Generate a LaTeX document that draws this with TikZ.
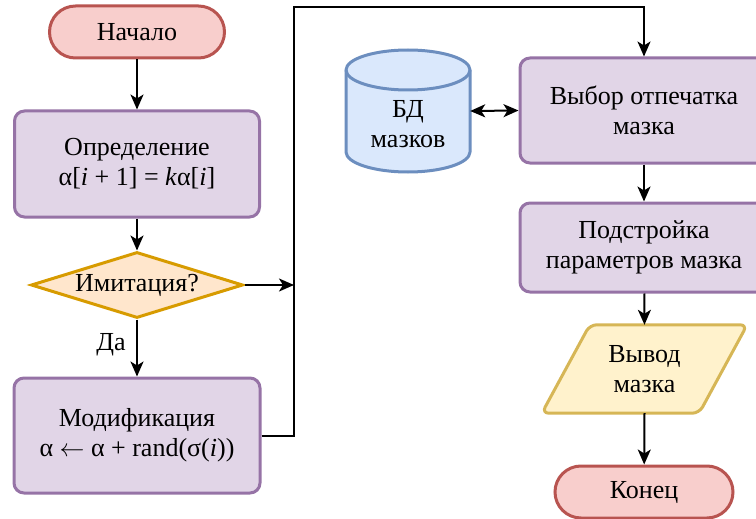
\documentclass[tikz,border=0pt]{standalone}
\usepackage{fontspec}
\setmainfont{Liberation Serif}
\usetikzlibrary{shapes.geometric,arrows.meta,calc}
\definecolor{redF}{HTML}{F8CECC}\definecolor{redS}{HTML}{B85450}
\definecolor{purF}{HTML}{E1D5E7}\definecolor{purS}{HTML}{9673A6}
\definecolor{orF}{HTML}{FFE6CC}\definecolor{orS}{HTML}{D79B00}
\definecolor{blF}{HTML}{DAE8FC}\definecolor{blS}{HTML}{6C8EBF}
\definecolor{yeF}{HTML}{FFF2CC}\definecolor{yeS}{HTML}{D6B656}
\begin{document}
\begin{tikzpicture}[x=1pt,y=1pt,
  every node/.style={font=\fontsize{26}{30}\selectfont, align=center, inner sep=0pt},
  term/.style={draw=redS, fill=redF, line width=3pt, rounded corners=26pt, minimum height=52pt},
  proc/.style={draw=purS, fill=purF, line width=3pt, rounded corners=10pt},
  dec/.style={diamond, draw=orS, fill=orF, line width=3pt, aspect=3.2, minimum width=212pt, minimum height=66pt},
  tip/.style={Stealth[length=15pt,width=13pt,inset=4pt]},
  conn/.style={line width=2pt, -{Stealth[length=15pt,width=13pt,inset=4pt]}},
  conn2/.style={line width=2pt, {Stealth[length=15pt,width=13pt,inset=4pt]}-{Stealth[length=15pt,width=13pt,inset=4pt]}}
]
\useasboundingbox (0,0) rectangle (756,-519);
\node[term, minimum width=175pt] (start) at (137,-32) {Начало};
\node[proc, minimum width=245pt, minimum height=106pt] (def) at (137,-164) {Определение\\α[\textit{i} + 1] = \textit{k}α[\textit{i}]};
\node[dec] (dec) at (137,-285) {Имитация?};
\node[proc, minimum width=246pt, minimum height=115pt] (mod) at (137,-435.5) {Модификация\\α $\leftarrow$ α + rand(σ(\textit{i}))};
\node (yes) at (111,-345) {Да};
\coordinate (j1) at (294,-7);

% database cylinder
\node[minimum width=124pt, minimum height=122pt] (db) at (408,-111) {};
\filldraw[draw=blS, fill=blF, line width=3pt] (346,-70) -- (346,-152) arc[start angle=180,end angle=360,x radius=62,y radius=20] -- (470,-70) arc[start angle=0,end angle=180,x radius=62,y radius=20] -- cycle;
\draw[draw=blS, line width=3pt] (346,-70) arc[start angle=180,end angle=360,x radius=62,y radius=20];
\node (dbtext) at (408,-124) {БД\\мазков};

\node[proc, minimum width=248pt, minimum height=105pt] (sel) at (644,-110.5) {Выбор отпечатка\\мазка};
\node[proc, minimum width=248pt, minimum height=89pt] (adj) at (644,-247.5) {Подстройка\\параметров мазка};
\node[minimum width=157pt, minimum height=88pt] (out) at (644.5,-369) {};
\filldraw[draw=yeS, fill=yeF, line width=3pt, rounded corners=7pt] ($(out.south west)+(-24,0)$) -- ($(out.north west)+(24,0)$) -- ($(out.north east)+(24,0)$) -- ($(out.south east)+(-24,0)$) -- cycle;
\node at (out) {Вывод\\мазка};
\node[term, minimum width=178pt] (end) at (644,-492) {Конец};

\draw[conn] (start) -- (def);
\draw[conn] (def) -- (dec);
\draw[conn] (dec) -- (mod);
\draw[conn] (dec.east) -- (dec.east -| j1);
\draw[conn] (mod.east) -| (j1) -| (sel.north);
\draw[conn2] (db.east) -- (sel.west);
\draw[conn] (sel) -- (adj);
\draw[conn] (adj) -- (out.north);
\draw[conn] (out.south) -- (end);
\end{tikzpicture}
\end{document}
